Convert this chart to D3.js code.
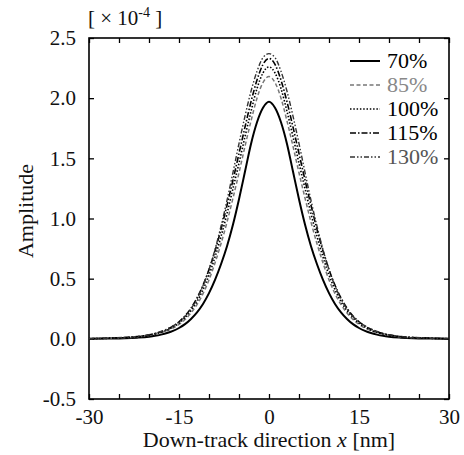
<!DOCTYPE html>
<html>
<head>
  <meta charset="utf-8">
  <script src="https://d3js.org/d3.v7.min.js"></script>
  <style>
    body { margin: 0; background: #fff; }
    svg { font-family: 'Liberation Serif', 'Times New Roman', serif; }
  </style>
</head>
<body>
  <div id="chart"></div>
  <script>
    // x positions (nm)
    const xs = [-30, -27, -24, -22, -20, -19, -18, -17, -16, -15, -14, -13, -12, -11, -10, -9, -8, -7, -6, -5, -4, -3, -2, -1, 0,
                1, 2, 3, 4, 5, 6, 7, 8, 9, 10, 11, 12, 13, 14, 15, 16, 17, 18, 19, 20, 22, 24, 27, 30];

    // amplitude values [x 1e-4]
    const amp70 = [0.000, 0.002, 0.005, 0.010, 0.018, 0.025, 0.035, 0.048, 0.066, 0.090, 0.122, 0.165, 0.220, 0.290, 0.380, 0.490, 0.620, 0.770, 0.950, 1.160, 1.390, 1.620, 1.800, 1.920, 1.970,
                   1.920, 1.800, 1.620, 1.390, 1.160, 0.950, 0.770, 0.620, 0.490, 0.380, 0.290, 0.220, 0.165, 0.122, 0.090, 0.066, 0.048, 0.035, 0.025, 0.018, 0.010, 0.005, 0.002, 0.000];
    const amp85 = [0.001, 0.004, 0.009, 0.015, 0.028, 0.037, 0.050, 0.067, 0.090, 0.120, 0.160, 0.215, 0.285, 0.375, 0.490, 0.630, 0.790, 0.970, 1.170, 1.380, 1.600, 1.810, 2.000, 2.130, 2.180,
                   2.130, 2.000, 1.810, 1.600, 1.380, 1.170, 0.970, 0.790, 0.630, 0.490, 0.375, 0.285, 0.215, 0.160, 0.120, 0.090, 0.067, 0.050, 0.037, 0.028, 0.015, 0.009, 0.004, 0.001];
    const amp100 = [0.001, 0.004, 0.010, 0.017, 0.030, 0.040, 0.054, 0.072, 0.097, 0.130, 0.175, 0.235, 0.310, 0.410, 0.530, 0.680, 0.850, 1.040, 1.250, 1.460, 1.680, 1.890, 2.080, 2.210, 2.260,
                    2.210, 2.080, 1.890, 1.680, 1.460, 1.250, 1.040, 0.850, 0.680, 0.530, 0.410, 0.310, 0.235, 0.175, 0.130, 0.097, 0.072, 0.054, 0.040, 0.030, 0.017, 0.010, 0.004, 0.001];
    const amp115 = [0.001, 0.005, 0.011, 0.018, 0.033, 0.044, 0.059, 0.079, 0.106, 0.142, 0.190, 0.255, 0.340, 0.445, 0.575, 0.730, 0.910, 1.110, 1.320, 1.540, 1.760, 1.970, 2.150, 2.280, 2.330,
                    2.280, 2.150, 1.970, 1.760, 1.540, 1.320, 1.110, 0.910, 0.730, 0.575, 0.445, 0.340, 0.255, 0.190, 0.142, 0.106, 0.079, 0.059, 0.044, 0.033, 0.018, 0.011, 0.005, 0.001];
    const amp130 = [0.001, 0.005, 0.012, 0.019, 0.034, 0.045, 0.062, 0.081, 0.107, 0.140, 0.185, 0.249, 0.332, 0.441, 0.576, 0.742, 0.936, 1.150, 1.384, 1.623, 1.851, 2.057, 2.223, 2.337, 2.370,
                    2.337, 2.223, 2.057, 1.851, 1.623, 1.384, 1.150, 0.936, 0.742, 0.576, 0.441, 0.332, 0.249, 0.185, 0.140, 0.107, 0.081, 0.062, 0.045, 0.034, 0.019, 0.012, 0.005, 0.001];

    const seriesNames = ["70%", "85%", "100%", "115%", "130%"];
    const seriesValues = [amp70, amp85, amp100, amp115, amp130];

    const xTicks = [-30, -25, -20, -15, -10, -5, 0, 5, 10, 15, 20, 25, 30];
    const xTickLabels = [-30, -15, 0, 15, 30];
    const yTicks = [-0.5, 0.0, 0.5, 1.0, 1.5, 2.0, 2.5];

    // styles per series
    const styles = [
      { color: "#000", width: 2.0, dash: null, text: "#000" },
      { color: "#777", width: 1.5, dash: "4,2.5", text: "#888" },
      { color: "#000", width: 1.6, dash: "1.5,1.8", text: "#000" },
      { color: "#000", width: 1.6, dash: "6,2,1.5,2", text: "#000" },
      { color: "#333", width: 1.4, dash: "5,2,1.5,2,1.5,2", text: "#555" }
    ];

    const width = 464, height = 455;
    const margin = { top: 38, right: 15, bottom: 56, left: 89 };
    const iw = width - margin.left - margin.right;
    const ih = height - margin.top - margin.bottom;

    const svg = d3.select("#chart").append("svg")
      .attr("width", width)
      .attr("height", height);

    const g = svg.append("g")
      .attr("transform", "translate(" + margin.left + "," + margin.top + ")");

    const x = d3.scaleLinear().domain([-30, 30]).range([0, iw]);
    const y = d3.scaleLinear().domain([-0.5, 2.5]).range([ih, 0]);

    // axes with inward ticks, plain hyphen for minus
    const fmtY = d => d3.format(".1f")(d).replace("\u2212", "-");
    const fmtX = d => xTickLabels.includes(d) ? String(d) : "";
    g.append("g")
      .attr("transform", "translate(0," + ih + ")")
      .call(d3.axisBottom(x).tickValues(xTicks).tickSizeInner(-5).tickSizeOuter(0).tickPadding(10).tickFormat(fmtX));
    g.append("g")
      .call(d3.axisTop(x).tickValues(xTicks).tickSizeInner(-5).tickSizeOuter(0).tickFormat(""));
    g.append("g")
      .call(d3.axisLeft(y).tickValues(yTicks).tickSizeInner(-5).tickSizeOuter(0).tickPadding(13).tickFormat(fmtY));
    g.append("g")
      .attr("transform", "translate(" + iw + ",0)")
      .call(d3.axisRight(y).tickValues(yTicks).tickSizeInner(-5).tickSizeOuter(0).tickFormat(""));

    g.selectAll(".domain").remove();
    g.selectAll(".tick line").attr("stroke", "#000").attr("stroke-width", 1.3);
    g.selectAll(".tick text")
      .attr("font-family", "'Liberation Serif', serif")
      .attr("font-size", 21)
      .attr("fill", "#111");

    // frame
    g.append("rect")
      .attr("width", iw)
      .attr("height", ih)
      .attr("fill", "none")
      .attr("stroke", "#000")
      .attr("stroke-width", 1.6);

    // curves
    const line = d3.line()
      .x(d => x(d[0]))
      .y(d => y(d[1]))
      .curve(d3.curveMonotoneX);

    seriesValues.forEach(function(vals, i) {
      const pts = xs.map((xv, j) => [xv, vals[j]]);
      g.append("path")
        .datum(pts)
        .attr("d", line)
        .attr("fill", "none")
        .attr("stroke", styles[i].color)
        .attr("stroke-width", styles[i].width)
        .attr("stroke-dasharray", styles[i].dash);
    });

    // legend
    const legend = svg.append("g").attr("transform", "translate(350,61)");
    seriesNames.forEach(function(name, i) {
      const row = legend.append("g").attr("transform", "translate(0," + (i * 24) + ")");
      row.append("line")
        .attr("x1", 0).attr("x2", 30)
        .attr("y1", 0).attr("y2", 0)
        .attr("stroke", styles[i].color)
        .attr("stroke-width", styles[i].width)
        .attr("stroke-dasharray", styles[i].dash);
      row.append("text")
        .attr("x", 37)
        .attr("y", 7)
        .attr("font-size", 22)
        .attr("fill", styles[i].text)
        .text(name);
    });

    // axis titles
    const xt = svg.append("text")
      .attr("x", margin.left + iw / 2)
      .attr("y", 447)
      .attr("text-anchor", "middle")
      .attr("font-size", 22)
      .attr("fill", "#111");
    xt.append("tspan").text("Down-track direction ");
    xt.append("tspan").attr("font-style", "italic").text("x");
    xt.append("tspan").text(" [nm]");

    svg.append("text")
      .attr("transform", "translate(33,211) rotate(-90)")
      .attr("text-anchor", "middle")
      .attr("font-size", 22)
      .attr("fill", "#111")
      .text("Amplitude");

    // exponent label
    const ex = svg.append("text")
      .attr("x", 88)
      .attr("y", 25)
      .attr("font-size", 21)
      .attr("fill", "#111");
    ex.append("tspan").text("[ \u00d7 10");
    ex.append("tspan").attr("font-size", 14).attr("dy", -8).text("-4");
    ex.append("tspan").attr("dy", 8).text(" ]");
  </script>
</body>
</html>
